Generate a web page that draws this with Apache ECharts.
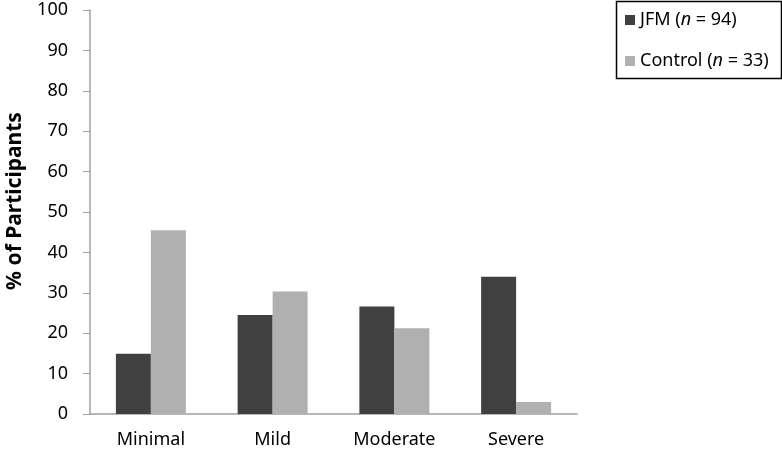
<!DOCTYPE html>
<html><head><meta charset="utf-8">
<script src="https://cdn.jsdelivr.net/npm/echarts@6/dist/echarts.min.js"></script>
<style>html,body{margin:0;padding:0;background:#fff}#c{width:782px;height:453px}</style>
</head><body><div id="c"></div>
<script>
const categories = ['Minimal', 'Mild', 'Moderate', 'Severe'];
const jfmValues = [14.9, 24.5, 26.6, 34.0];
const controlValues = [45.5, 30.3, 21.2, 3.0];
const seriesNames = ['JFM (n = 94)', 'Control (n = 33)'];
const legendRich = {
  'JFM (n = 94)': '{a|JFM (}{i|n}{a| = 94)}',
  'Control (n = 33)': '{a|Control (}{i|n}{a| = 33)}'
};
const FONT = 'Noto Sans';
const chart = echarts.init(document.getElementById('c'));
chart.setOption({
  animation: false,
  textStyle: { fontFamily: FONT },
  grid: { left: 90, right: 205, top: 10, bottom: 39, containLabel: false, outerBoundsMode: 'none' },
  graphic: [{
    type: 'rect', left: 614, top: -1,
    shape: { width: 165, height: 77 },
    style: { fill: 'none', stroke: '#000', lineWidth: 1.5 }
  }],
  legend: {
    orient: 'vertical', left: 625, top: 11, itemGap: 23, padding: 0,
    itemWidth: 10, itemHeight: 10,
    data: seriesNames,
    icon: 'rect',
    formatter: n => legendRich[n],
    textStyle: {
      rich: {
        a: { fontFamily: FONT, fontSize: 18, lineHeight: 20, color: '#000' },
        i: { fontFamily: FONT, fontSize: 18, lineHeight: 20, color: '#000', fontStyle: 'italic' }
      }
    }
  },
  xAxis: {
    type: 'category', data: categories,
    axisLine: { lineStyle: { color: '#a0a0a0', width: 1.5 } },
    axisTick: { show: false },
    axisLabel: { color: '#000', fontSize: 18, margin: 17, fontFamily: FONT }
  },
  yAxis: {
    type: 'value', min: 0, max: 100, interval: 10,
    name: '% of Participants', nameLocation: 'middle', nameGap: 64, nameRotate: 90,
    nameTextStyle: { fontSize: 21, fontWeight: 'bold', color: '#000', fontFamily: FONT, padding: [0, 0, 0, 22] },
    axisLine: { show: true, lineStyle: { color: '#a0a0a0', width: 1.5 } },
    axisTick: { show: true, length: 7, lineStyle: { color: '#a0a0a0' } },
    splitLine: { show: false },
    axisLabel: { color: '#000', fontSize: 18, margin: 22, fontFamily: FONT }
  },
  series: [
    { name: seriesNames[0], type: 'bar', data: jfmValues, barWidth: 35, barGap: '0%', itemStyle: { color: '#404040' } },
    { name: seriesNames[1], type: 'bar', data: controlValues, barWidth: 35, barGap: '0%', itemStyle: { color: '#b0b0b0' } }
  ]
});
</script></body></html>
